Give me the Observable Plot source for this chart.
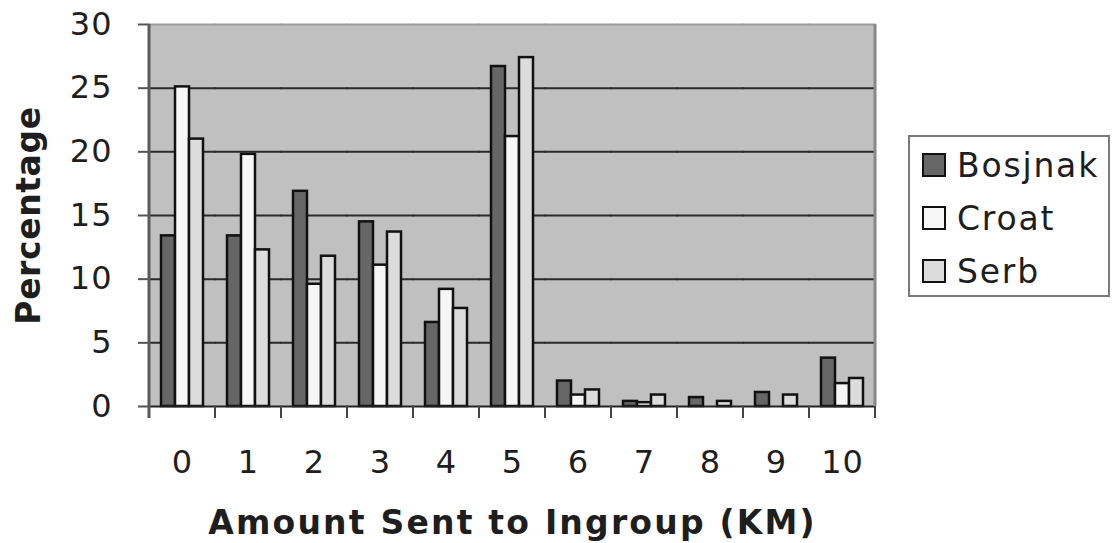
<!DOCTYPE html>
<html>
<head>
<meta charset="utf-8">
<script src="https://cdn.jsdelivr.net/npm/d3@7"></script>
<script src="https://cdn.jsdelivr.net/npm/@observablehq/plot@0.6"></script>
<style>
  html, body { margin: 0; padding: 0; background: #ffffff; }
  #wrap { position: relative; width: 1112px; height: 543px; font-family: "DejaVu Sans", Verdana, sans-serif; color: #1e1e1e; }
  [aria-label="fx-axis label"] { font-weight: bold; font-size: 33px; letter-spacing: 2.2px; }
  [aria-label="y-axis label"] { font-weight: bold; font-size: 33px; letter-spacing: 0.6px; }
  [aria-label="y-axis tick label"], [aria-label="fx-axis tick label"] { letter-spacing: 1px; }
  #legend { position: absolute; left: 908px; top: 135px; width: 202px; height: 162px; border: 2px solid #7a7a7a; background: #fff; box-sizing: border-box; }
  .item { position: absolute; left: 12px; height: 30px; display: flex; align-items: center; font-size: 33px; letter-spacing: 1.8px; }
  .sw { width: 20px; height: 20px; border: 2.5px solid #111; margin-right: 11px; }
</style>
</head>
<body>
<div id="wrap"><div id="legend"></div></div>
<script>
// ---- data ----
const categories = ["0", "1", "2", "3", "4", "5", "6", "7", "8", "9", "10"];
const seriesNames = ["Bosjnak", "Croat", "Serb"];
const bosjnak = [13.4, 13.4, 16.9, 14.5, 6.6, 26.7, 2.0, 0.4, 0.7, 1.1, 3.8];
const croat   = [25.1, 19.8, 9.6, 11.1, 9.2, 21.2, 0.9, 0.3, 0, 0, 1.8];
const serb    = [21.0, 12.3, 11.8, 13.7, 7.7, 27.4, 1.3, 0.9, 0.4, 0.9, 2.2];
const yTicks = [0, 5, 10, 15, 20, 25, 30];
const gridValues = [5, 10, 15, 20, 25];
const seriesColors = ["#666666", "#f6f6f6", "#dcdcdc"];

const seriesValues = [bosjnak, croat, serb];
const rows = [];
categories.forEach((c, i) => {
  seriesNames.forEach((s, j) => rows.push({amount: c, group: s, value: seriesValues[j][i]}));
});

const plot = Plot.plot({
  width: 1112,
  height: 543,
  marginLeft: 144,
  marginRight: 233,
  marginTop: 24,
  marginBottom: 137,
  style: {fontFamily: "'DejaVu Sans', Verdana, sans-serif", color: "#1e1e1e", background: "transparent", overflow: "visible"},
  fx: {domain: categories, padding: 0},
  x: {domain: seriesNames, paddingInner: 0, paddingOuter: 0.75, axis: null},
  y: {domain: [0, 30]},
  color: {domain: seriesNames, range: seriesColors},
  marks: [
    Plot.frame({fill: "#c0c0c0", insetLeft: -0.6, insetRight: -0.6}),
    Plot.ruleY(gridValues, {stroke: "#2a2a2a", strokeWidth: 2, insetLeft: -0.6, insetRight: -0.6}),
    Plot.ruleY([30], {stroke: "#9a9a9a", strokeWidth: 2, insetLeft: -0.6, insetRight: -0.6}),
    Plot.barY(rows, {fx: "amount", x: "group", y: "value", fill: "group", stroke: "#111", strokeWidth: 2.5}),
    Plot.ruleY([0], {stroke: "#222", strokeWidth: 2, insetLeft: -0.6, insetRight: -0.6}),
    Plot.axisY({ticks: yTicks, tickSize: 11, tickPadding: 26, fontSize: 32, stroke: "#555", strokeWidth: 2,
      label: "Percentage", labelAnchor: "center", labelOffset: 133, labelArrow: "none"}),
    Plot.axisFx({anchor: "bottom", tickSize: 0, tickPadding: 44, fontSize: 32,
      label: "Amount Sent to Ingroup (KM)", labelAnchor: "center", labelOffset: 127, labelArrow: "none"})
  ]
});

document.getElementById("wrap").prepend(plot);

// boundary ticks, axis line and right border, from the library's scales
const fx = plot.scale("fx");
const ys = plot.scale("y");
const y0 = ys.apply(0), y30 = ys.apply(30);
const bounds = categories.map(c => fx.apply(c));
bounds.push(fx.apply(categories[categories.length - 1]) + fx.bandwidth);
const g = d3.select(plot).append("g");
g.selectAll("line.t").data(bounds).join("line")
  .attr("x1", d => d).attr("x2", d => d)
  .attr("y1", y0).attr("y2", y0 + 12)
  .attr("stroke", "#444").attr("stroke-width", 2);
g.append("line").attr("x1", bounds[bounds.length - 1]).attr("x2", bounds[bounds.length - 1])
  .attr("y1", y30).attr("y2", y0).attr("stroke", "#888").attr("stroke-width", 3);
g.append("line").attr("x1", bounds[0]).attr("x2", bounds[0])
  .attr("y1", y30).attr("y2", y0 + 12).attr("stroke", "#5a5a5a").attr("stroke-width", 3);

// legend
const legend = document.getElementById("legend");
seriesNames.forEach((s, i) => {
  const it = document.createElement("div");
  it.className = "item";
  it.style.top = (13 + i * 53) + "px";
  const sw = document.createElement("div");
  sw.className = "sw";
  sw.style.background = seriesColors[i];
  const t = document.createElement("span");
  t.textContent = s;
  it.appendChild(sw);
  it.appendChild(t);
  legend.appendChild(it);
});
</script>
</body>
</html>
